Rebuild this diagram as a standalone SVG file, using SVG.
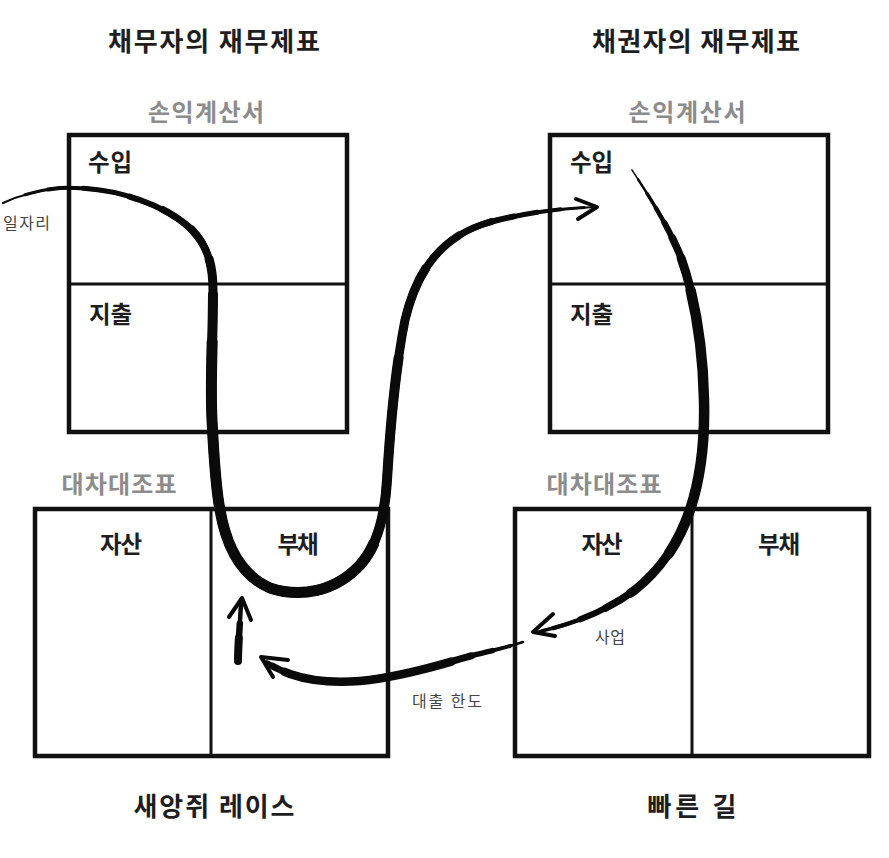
<svg xmlns="http://www.w3.org/2000/svg" width="889" height="858" viewBox="0 0 889 858">
<style>
text{font-family:"Noto Sans CJK KR","Noto Sans",sans-serif;}
.title{font-size:26px;font-weight:700;fill:#1e1e1e;text-anchor:middle;}
.sub{font-size:24px;font-weight:700;fill:#8c8c8c;text-anchor:middle;}
.lbl{font-size:23.5px;font-weight:700;fill:#1e1e1e;}
.mid{text-anchor:middle;}
.small{font-size:16px;font-weight:400;fill:#444;}
.box{fill:none;stroke:#111;stroke-width:4.5;}
.div{fill:none;stroke:#111;stroke-width:3;}
.brush{fill:none;stroke:#0a0a0a;stroke-linecap:round;stroke-linejoin:round;}
</style>
<defs>
<path id="c1" pathLength="100" d="M3,203 C20,195 40,190 60,188 C90,187 115,191 140,200 C160,207 175,215 190,228 C206,243 213,262 213,290 C213,340 210,380 212,420 C214,460 216,490 220,510 C226,545 240,575 270,588 C300,598 335,592 360,565 C378,545 385,515 387,480 C390,430 395,370 405,320 C418,265 445,235 490,222 C525,213 560,208 596,207"/>
<path id="c2" pathLength="100" d="M632,170 C645,190 668,225 680,255 C695,295 703,350 704,400 C705,440 700,480 690,510 C678,545 660,570 635,590 C605,612 570,625 537,632"/>
<path id="c3" pathLength="100" d="M523,642 C505,648 485,652 467,657 C440,665 400,677 360,681 C335,683 310,681 290,674 C280,670 273,667 266,662"/>
<path id="c4" pathLength="100" d="M238,661 C238,645 240,625 241,603"/>
</defs>
<rect width="889" height="858" fill="#fff"/>

<g id="titles">
<text class="title" x="214" y="51" textLength="212" lengthAdjust="spacing">채무자의 재무제표</text>
<text class="title" x="696" y="51" textLength="208" lengthAdjust="spacing">채권자의 재무제표</text>
<text class="title" x="214" y="816" textLength="161" lengthAdjust="spacing">새앙쥐 레이스</text>
<text class="title" x="692" y="816" textLength="89" lengthAdjust="spacing">빠른 길</text>
</g>

<g id="debtor-income">
<text class="sub" x="206" y="121" textLength="116" lengthAdjust="spacing">손익계산서</text>
<rect class="box" x="69" y="135" width="278" height="297"/>
<line class="div" x1="69" y1="284" x2="347" y2="284"/>
<text class="lbl" x="88" y="171" textLength="44" lengthAdjust="spacing">수입</text>
<text class="lbl" x="89" y="323" textLength="43" lengthAdjust="spacing">지출</text>
</g>

<g id="creditor-income">
<text class="sub" x="687" y="121" textLength="117" lengthAdjust="spacing">손익계산서</text>
<rect class="box" x="550" y="135" width="278" height="297"/>
<line class="div" x1="550" y1="284" x2="828" y2="284"/>
<text class="lbl" x="570" y="171" textLength="43" lengthAdjust="spacing">수입</text>
<text class="lbl" x="570" y="323" textLength="43" lengthAdjust="spacing">지출</text>
</g>

<g id="debtor-balance">
<text class="sub" x="119" y="493" textLength="115" lengthAdjust="spacing">대차대조표</text>
<rect class="box" x="35" y="509" width="353" height="247"/>
<line class="div" x1="211" y1="509" x2="211" y2="756"/>
<text class="lbl mid" x="121" y="553" textLength="42" lengthAdjust="spacing">자산</text>
<text class="lbl mid" x="298" y="553" textLength="41" lengthAdjust="spacing">부채</text>
</g>

<g id="creditor-balance">
<text class="sub" x="604" y="493" textLength="115" lengthAdjust="spacing">대차대조표</text>
<rect class="box" x="515" y="509" width="354" height="247"/>
<line class="div" x1="692" y1="509" x2="692" y2="756"/>
<text class="lbl mid" x="602" y="553" textLength="41" lengthAdjust="spacing">자산</text>
<text class="lbl mid" x="779" y="553" textLength="42" lengthAdjust="spacing">부채</text>
</g>

<g id="labels">
<text class="small" x="3" y="229" textLength="47" lengthAdjust="spacing">일자리</text>
<text class="small" x="595" y="643" textLength="30" lengthAdjust="spacing">사업</text>
<text class="small" x="412" y="707" font-size="16.5" textLength="70" lengthAdjust="spacing">대출 한도</text>
</g>

<g id="connectors" class="brush">
<!-- job income: tapered brush stroke -->
<use href="#c1" stroke-width="2"/>
<use href="#c1" stroke-width="3" stroke-dasharray="97 200" stroke-dashoffset="-2"/>
<use href="#c1" stroke-width="4" stroke-dasharray="93 200" stroke-dashoffset="-4"/>
<use href="#c1" stroke-width="5" stroke-dasharray="88 200" stroke-dashoffset="-7"/>
<use href="#c1" stroke-width="6" stroke-dasharray="82 200" stroke-dashoffset="-11"/>
<use href="#c1" stroke-width="7" stroke-dasharray="77 200" stroke-dashoffset="-14"/>
<use href="#c1" stroke-width="8" stroke-dasharray="71 200" stroke-dashoffset="-17"/>
<use href="#c1" stroke-width="9" stroke-dasharray="64 200" stroke-dashoffset="-20"/>
<use href="#c1" stroke-width="10" stroke-dasharray="53 200" stroke-dashoffset="-23"/>
<use href="#c1" stroke-width="11" stroke-dasharray="33 200" stroke-dashoffset="-27"/>
<polyline stroke-width="4" points="576,199 597,207 578,219"/>

<!-- creditor income to assets: business -->
<use href="#c2" stroke-width="1.5"/>
<use href="#c2" stroke-width="2.5" stroke-dasharray="98 200" stroke-dashoffset="-2"/>
<use href="#c2" stroke-width="3.5" stroke-dasharray="94 200" stroke-dashoffset="-5"/>
<use href="#c2" stroke-width="4.5" stroke-dasharray="89 200" stroke-dashoffset="-8"/>
<use href="#c2" stroke-width="6" stroke-dasharray="81 200" stroke-dashoffset="-11"/>
<use href="#c2" stroke-width="7.5" stroke-dasharray="73 200" stroke-dashoffset="-14"/>
<use href="#c2" stroke-width="9" stroke-dasharray="64 200" stroke-dashoffset="-18"/>
<use href="#c2" stroke-width="10.5" stroke-dasharray="48 200" stroke-dashoffset="-24"/>
<polyline stroke-width="4" points="553,614 533,632 555,636"/>

<!-- loan limit -->
<use href="#c3" stroke-width="2.5"/>
<use href="#c3" stroke-width="4" stroke-dasharray="95 200" stroke-dashoffset="-5"/>
<use href="#c3" stroke-width="5.5" stroke-dasharray="87 200" stroke-dashoffset="-12"/>
<use href="#c3" stroke-width="7" stroke-dasharray="77 200" stroke-dashoffset="-20"/>
<use href="#c3" stroke-width="8.5" stroke-dasharray="64 200" stroke-dashoffset="-28"/>
<polyline stroke-width="4" points="288,660 261,657 273,677"/>

<!-- small upward arrow -->
<use href="#c4" stroke-width="4.5"/>
<use href="#c4" stroke-width="6.5" stroke-dasharray="65 200"/>
<use href="#c4" stroke-width="8" stroke-dasharray="40 200"/>
<polyline stroke-width="4" points="229,617 242,598 251,620"/>
</g>
</svg>
